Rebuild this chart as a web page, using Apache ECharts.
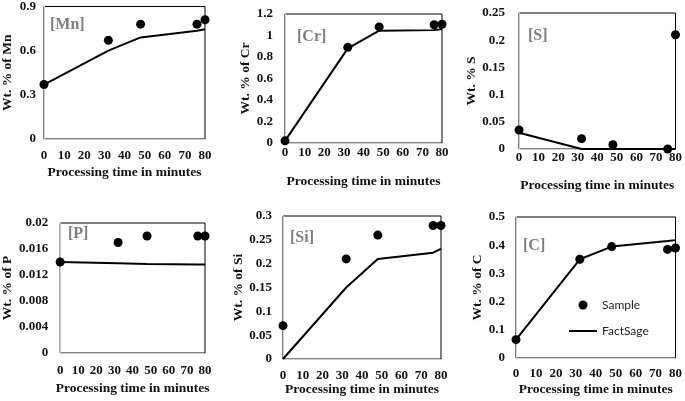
<!DOCTYPE html>
<html><head><meta charset="utf-8">
<script src="https://cdn.jsdelivr.net/npm/echarts@6/dist/echarts.min.js"></script>
<style>html,body{margin:0;padding:0;background:#fff}#c{width:685px;height:401px}</style>
</head><body><div id="c"></div>
<script>
const times = [0, 32, 48, 76, 80];
const xTicks = [0, 10, 20, 30, 40, 50, 60, 70, 80];
const mnSample = [0.37, 0.67, 0.78, 0.78, 0.81];
const mnFact   = [0.37, 0.60, 0.69, 0.735, 0.745];
const crSample = [0.02, 0.89, 1.08, 1.10, 1.105];
const crFact   = [0.02, 0.88, 1.045, 1.05, 1.06];
const sSample  = [0.035, 0.019, 0.008, 0, 0.21];
const sFact    = [0.030, 0, 0, 0, 0];
const pSample  = [0.014, 0.017, 0.018, 0.018, 0.018];
const pFact    = [0.014, 0.0138, 0.0137, 0.0136, 0.0136];
const siSample = [0.07, 0.21, 0.26, 0.28, 0.28];
const siFact   = [0, 0.15, 0.21, 0.223, 0.231];
const cSample  = [0.065, 0.35, 0.395, 0.385, 0.39];
const cFact    = [0.065, 0.35, 0.395, 0.415, 0.418];
const panelLabels = ['[Mn]', '[Cr]', '[S]', '[P]', '[Si]', '[C]'];
const yNames = ['Wt. % of Mn', 'Wt. % of Cr', 'Wt. % S', 'Wt. % of P', 'Wt. % of Si', 'Wt. % of C'];
const yMax = [0.9, 1.2, 0.25, 0.02, 0.3, 0.5];
const yStep = [0.3, 0.2, 0.05, 0.004, 0.05, 0.1];
const xName = 'Processing time in minutes';

const samples = [mnSample, crSample, sSample, pSample, siSample, cSample];
const facts = [mnFact, crFact, sFact, pFact, siFact, cFact];

// layout
const grids = [
  {left: 43, top: 5, width: 162, height: 134},
  {left: 285, top: 14, width: 157, height: 129},
  {left: 519, top: 13, width: 157, height: 136},
  {left: 55, top: 223, width: 150, height: 130},
  {left: 283, top: 216, width: 158, height: 143},
  {left: 516, top: 217, width: 160, height: 141}
];
const xLabelMargin = [10, 3, 2, 11, 10, 9];
const xNameGap = [27, 32, 30, 29, 24, 25];
const yLabelMargin = [8, 12, 14, 12, 11, 11];
const yNameGap = [29, 31, 35, 41, 28, 31];
const labelPos = [[50, 26], [297, 38], [528, 37], [68, 235], [290, 239], [523, 247]];

const font = "'Liberation Serif', 'Times New Roman', serif";
const txt = '#111';
const fmt = v => String(parseFloat(Number(v).toFixed(4)));

const option = {
  animation: false,
  backgroundColor: '#fff',
  textStyle: {fontFamily: font, fontWeight: 'bold'},
  grid: grids.map(g => Object.assign({show: true, borderColor: '#000', borderWidth: 1, backgroundColor: 'transparent'}, g)),
  xAxis: grids.map((g, i) => ({
    type: 'value', gridIndex: i, min: 0, max: 80, interval: 10,
    axisLine: {show: true, onZero: false, lineStyle: {color: '#d0d0d0', width: 1}},
    axisTick: {show: false}, splitLine: {show: false},
    axisLabel: {margin: xLabelMargin[i], fontFamily: font, fontWeight: 'bold', fontSize: 13, color: txt, showMaxLabel: true, showMinLabel: true},
    name: xName, nameLocation: 'middle', nameGap: xNameGap[i],
    nameTextStyle: {fontFamily: font, fontWeight: 'bold', fontSize: 13.5, color: txt}
  })),
  yAxis: grids.map((g, i) => ({
    type: 'value', gridIndex: i, min: 0, max: yMax[i], interval: yStep[i],
    axisLine: {show: true, onZero: false, lineStyle: {color: '#d0d0d0', width: 1}},
    axisTick: {show: false}, splitLine: {show: false},
    axisLabel: {margin: yLabelMargin[i], fontFamily: font, fontWeight: 'bold', fontSize: 13, color: txt, formatter: fmt},
    name: yNames[i], nameLocation: 'middle', nameGap: yNameGap[i],
    nameTextStyle: {fontFamily: font, fontWeight: 'bold', fontSize: 13.5, color: txt}
  })),
  legend: {
    data: [
      {name: 'Sample', icon: 'circle'},
      {name: 'FactSage', icon: 'path://M0,0 L28,0 L28,2 L0,2 Z'}
    ],
    orient: 'vertical', left: 564, top: 294,
    itemWidth: 28, itemHeight: 9, itemGap: 14,
    textStyle: {fontFamily: 'Lato', fontWeight: 'normal', fontSize: 12, color: '#222'}
  },
  graphic: panelLabels.map((t, i) => ({
    type: 'text', left: labelPos[i][0], top: labelPos[i][1] - 9,
    style: {text: t, fontFamily: font, fontWeight: 'bold', fontSize: 16, fill: '#7f7f7f'}
  })),
  series: []
};
for (let i = 0; i < 6; i++) {
  option.series.push({
    name: 'FactSage', type: 'line', xAxisIndex: i, yAxisIndex: i,
    data: times.map((t, k) => [t, facts[i][k]]),
    symbol: 'none', lineStyle: {color: '#000', width: 2}, itemStyle: {color: '#000'}, clip: false, z: 2
  });
  option.series.push({
    name: 'Sample', type: 'scatter', xAxisIndex: i, yAxisIndex: i,
    data: times.map((t, k) => [t, samples[i][k]]),
    symbol: 'circle', symbolSize: 9, itemStyle: {color: '#000', opacity: 1}, clip: false, z: 3
  });
}
const chart = echarts.init(document.getElementById('c'), null, {renderer: 'canvas'});
chart.setOption(option);
</script></body></html>
